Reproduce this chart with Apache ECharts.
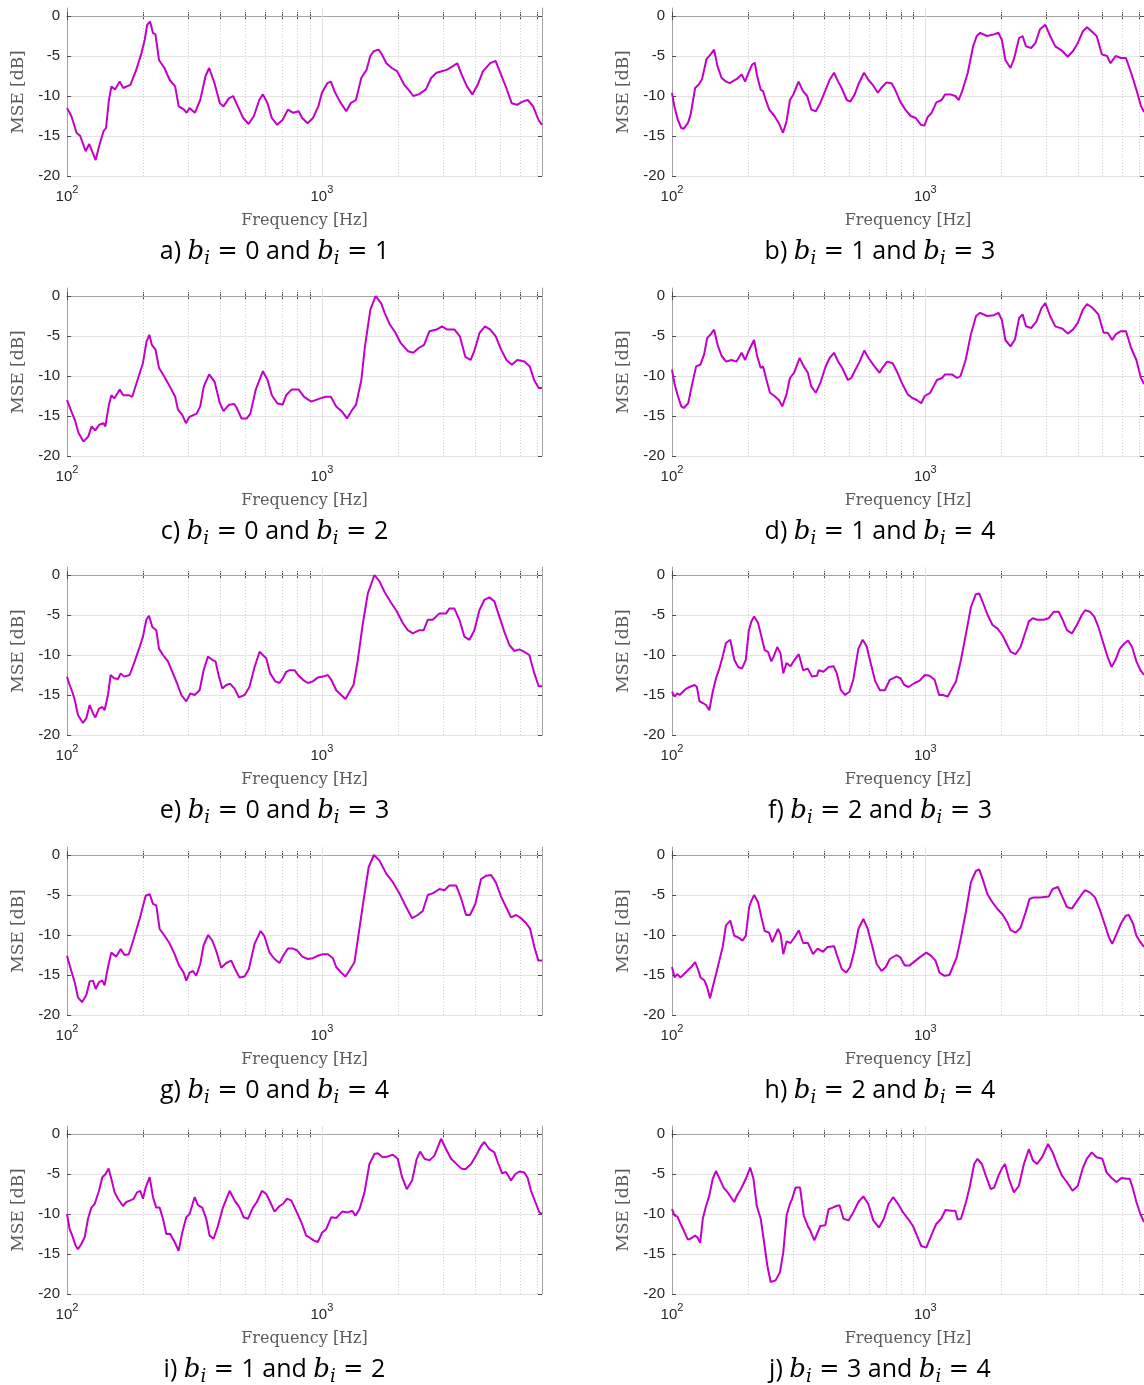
<!DOCTYPE html>
<html lang="en">

<head>
  <meta charset="UTF-8">
  <title>MSE per frequency band</title>
  <style media="screen">
    html, body { margin: 0; padding: 0; background: #fff; }
  </style>
</head>

<body>
  <div id="main" style="width:1144px;height:1385px;"></div>
</body>
<script src="https://cdn.jsdelivr.net/npm/echarts@6/dist/echarts.min.js"></script>

<script>
  // [frequency Hz, MSE dB]
  var curveA = [[100,-11.5],[104,-12.5],[109,-14.6],[112.7,-15],[118.3,-16.9],[122.2,-16],[125.4,-16.9],[129.5,-18],[134.6,-15.9],[139.1,-14.4],[142.3,-14],[146,-10.5],[149.4,-8.8],[154.3,-9.2],[160.9,-8.2],[166.2,-9],[177.3,-8.6],[186.1,-6.9],[195.3,-4.8],[201.7,-3],[206.3,-1.1],[211.7,-0.7],[217.3,-2.1],[222.3,-2.3],[229.6,-5.5],[241,-6.5],[253,-8],[265.6,-8.8],[274.3,-11.3],[288,-11.7],[294.5,-12.1],[302.2,-11.5],[317.2,-12.1],[333.1,-10.5],[349.6,-7.5],[361.1,-6.5],[379,-8.4],[397.8,-10.9],[411,-11.3],[431.3,-10.3],[448.4,-10],[467.7,-11.3],[490.9,-12.75],[515.4,-13.5],[541,-12.5],[567.9,-10.5],[586.6,-9.8],[611.7,-10.9],[635.9,-12.75],[667.5,-13.6],[700.7,-13],[735.6,-11.7],[772,-12.1],[810.4,-11.9],[837,-12.75],[878.6,-13.4],[922.3,-12.75],[968.2,-11.3],[1000,-9.6],[1050,-8.4],[1084,-8.2],[1120,-9.4],[1176,-10.7],[1246,-11.9],[1296,-10.9],[1360,-10.5],[1427,-7.75],[1498,-6.7],[1548,-5],[1598,-4.4],[1667,-4.2],[1705,-4.6],[1790,-5.9],[1879,-6.5],[1972,-6.9],[2104,-8.6],[2209,-9.4],[2281,-10],[2394,-9.8],[2555,-9.2],[2682,-7.75],[2815,-7.1],[2954,-6.9],[3101,-6.7],[3255,-6.3],[3395,-5.9],[3530,-7.3],[3706,-8.8],[3890,-9.8],[4083,-8.6],[4285,-6.9],[4573,-5.9],[4800,-5.6],[5038,-7.3],[5288,-9],[5552,-10.9],[5827,-11.1],[6117,-10.7],[6421,-10.5],[6741,-11.3],[7074,-13],[7300,-13.6]];
  var curveB = [[100,-9.6],[102.2,-11.3],[105.5,-13],[108.8,-14],[111.2,-14.1],[115.9,-13.3],[118.5,-12.3],[123.4,-9],[127.3,-8.6],[131.4,-7.9],[136.8,-5.4],[142.1,-4.8],[146.6,-4.2],[151.3,-6.3],[157,-7.75],[163.6,-8.2],[168.8,-8.4],[179.7,-7.9],[188.4,-7.3],[194.4,-8.2],[199.3,-7.3],[206.9,-6.1],[212.2,-5.85],[216.9,-7.5],[223.8,-9.2],[228.8,-9.4],[234.6,-10.5],[242,-11.7],[253.7,-12.5],[264.2,-13.4],[274.3,-14.6],[283.1,-13.2],[292.1,-10.5],[301.4,-9.8],[315.9,-8.2],[329,-9.4],[341.6,-10],[354.7,-11.7],[369.4,-11.9],[384.8,-10.9],[399.6,-9.6],[418.8,-8],[436.2,-7.1],[452.9,-8.2],[467.3,-9],[489.8,-10.5],[505.4,-10.7],[526.4,-9.8],[546.6,-8.4],[573,-7.1],[596.7,-8],[619.6,-8.6],[649.4,-9.6],[670,-9],[702.4,-8.3],[735.9,-8.4],[759.7,-9.2],[796.3,-10.7],[834.2,-11.7],[874.7,-12.5],[917,-12.75],[961,-13.6],[991,-13.7],[1023,-12.6],[1055,-12.2],[1106,-10.8],[1160,-10.5],[1196,-9.8],[1254,-9.8],[1313,-10],[1355,-10.5],[1398,-9.4],[1471,-7.1],[1544,-3.8],[1596,-2.5],[1646,-2.1],[1753,-2.5],[1866,-2.3],[1944,-2.1],[2006,-3],[2070,-5.5],[2169,-6.5],[2238,-5.4],[2346,-2.75],[2421,-2.5],[2498,-3.8],[2618,-4],[2719,-3.4],[2832,-1.7],[2977,-1.1],[3110,-2.5],[3261,-3.8],[3481,-4.4],[3650,-5.1],[3825,-4.4],[3996,-3.4],[4189,-1.9],[4350,-1.4],[4530,-1.9],[4748,-2.5],[4980,-4.8],[5216,-5],[5384,-5.9],[5642,-5],[5914,-5.25],[6197,-5.25],[6494,-7.1],[6810,-9.2],[7091,-11.2],[7300,-12]];
  var curveC = [[100,-13],[103.9,-14.4],[107.4,-15.5],[110.9,-17.1],[116,-18.2],[121,-17.6],[125,-16.3],[129,-16.8],[133.8,-16.1],[139.1,-15.9],[141.4,-16.3],[146,-13.6],[149.4,-12.4],[153.3,-12.8],[161,-11.7],[166.2,-12.4],[174.5,-12.4],[180.2,-12.6],[189.1,-10.5],[198.5,-8.4],[205.1,-5.7],[210.4,-4.85],[215.2,-6.1],[222.4,-6.7],[229.6,-9],[241,-10.1],[253,-11.3],[265.6,-12.6],[272.5,-14.2],[283.4,-14.9],[292.7,-15.9],[302.3,-15.1],[322.5,-14.7],[333.1,-13.8],[344.1,-11.3],[361.1,-9.8],[379.1,-10.7],[397.8,-13.4],[411,-14.4],[431.5,-13.6],[453,-13.5],[463.5,-14],[483.3,-15.3],[507.3,-15.3],[524,-14.7],[550,-11.7],[586.8,-9.4],[612,-10.5],[636.2,-12.4],[667.9,-13.4],[701.1,-13.6],[724.2,-12.4],[760.2,-11.7],[811,-11.7],[851.4,-12.6],[908.3,-13.2],[984.5,-12.8],[1033,-12.6],[1084,-12.6],[1138,-13.8],[1195,-14.4],[1254,-15.3],[1317,-14.2],[1360,-13.6],[1428,-10.5],[1475,-6.3],[1549,-1.7],[1625,0],[1706,-0.9],[1762,-2.1],[1850,-3.6],[1942,-4.6],[2039,-5.9],[2175,-6.9],[2283,-7.1],[2397,-6.5],[2516,-6.1],[2641,-4.4],[2818,-4.2],[2958,-3.8],[3105,-4.2],[3313,-4.2],[3478,-5.05],[3651,-7.6],[3832,-8],[3959,-6.9],[4155,-4.6],[4362,-3.8],[4579,-4.2],[4807,-5.05],[5046,-6.7],[5297,-8],[5560,-8.6],[5836,-8],[6227,-8.2],[6537,-8.8],[6796,-10.5],[7087,-11.5],[7300,-11.5]];
  var curveD = [[100,-9.2],[102.2,-10.9],[105.5,-12.5],[108.8,-13.8],[111.2,-14],[115.9,-13.4],[119.6,-11.3],[124.5,-8.8],[129.3,-8.6],[133.9,-7.3],[137.7,-5.25],[142.1,-4.8],[146.6,-4.2],[151.3,-6.1],[157,-7.5],[163.6,-8.2],[171.5,-8],[179.7,-8.2],[188.4,-7.1],[194.4,-8],[200.5,-6.9],[210.8,-5.5],[216.9,-7.5],[223.8,-9],[228.8,-8.8],[236.1,-10.5],[243.6,-12.1],[253.7,-12.5],[264.2,-13],[272.6,-13.8],[283.1,-12.3],[292.1,-10.25],[303.3,-9.6],[318.9,-7.75],[331.1,-8.8],[343.8,-9.6],[354.7,-11.3],[369.4,-12.1],[384.8,-10.9],[402.2,-9],[418.8,-7.75],[436.2,-7.1],[452.9,-8.2],[470.2,-9],[494.5,-10.5],[510.2,-10.25],[529.8,-9.2],[550.1,-8.2],[574.7,-6.8],[596.7,-7.75],[623.5,-8.6],[659.7,-9.6],[676.4,-9],[706.9,-8.2],[743.1,-8.4],[771.6,-9.4],[808.7,-10.9],[852.4,-12.3],[888.6,-12.75],[925.5,-13],[964,-13.4],[995,-12.5],[1045,-12.1],[1078,-11.3],[1112,-10.5],[1164,-10.25],[1196,-9.8],[1274,-9.8],[1334,-10.25],[1377,-10],[1443,-8],[1513,-4.8],[1586,-2.5],[1646,-2.1],[1753,-2.5],[1866,-2.4],[1944,-2.1],[2006,-3],[2070,-5.5],[2169,-6.3],[2260,-5.4],[2346,-2.75],[2421,-2.3],[2498,-3.8],[2618,-4],[2744,-3.2],[2876,-1.5],[2977,-0.9],[3110,-2.5],[3261,-3.8],[3481,-4.1],[3650,-4.7],[3825,-4.2],[3996,-3.4],[4189,-1.7],[4350,-1],[4574,-1.5],[4823,-2.3],[5056,-4.6],[5250,-4.6],[5468,-5.5],[5642,-4.8],[5914,-4.4],[6197,-4.4],[6494,-6.5],[6810,-8],[7091,-10.2],[7300,-11]];
  var curveE = [[100,-12.7],[102.4,-13.75],[104.9,-14.6],[107.2,-15.6],[110.4,-17.5],[115.5,-18.5],[119.1,-17.9],[122.7,-16.25],[126.5,-17.3],[129.2,-17.8],[133.5,-16.7],[137.6,-16.5],[140.4,-16.9],[144.8,-15],[148.3,-12.5],[152.9,-12.9],[158.5,-13],[162.4,-12.3],[167.4,-12.7],[176.1,-12.5],[184.3,-10.8],[192.7,-9],[198.6,-7.7],[204.7,-5.6],[209.7,-5.1],[216.1,-6.5],[224,-6.9],[229.5,-9.2],[238,-10],[248.9,-10.8],[260.4,-12.3],[270,-13.5],[280.9,-15],[293.7,-15.8],[304.5,-14.8],[316.6,-15],[331.3,-14.4],[343.6,-11.9],[357.2,-10.2],[371.4,-10.6],[382.6,-10.8],[394.4,-12.7],[406.7,-14.2],[421.4,-13.75],[436.9,-13.6],[454.4,-14.2],[472.4,-15.3],[497.3,-15],[519.5,-14],[544.3,-11.5],[569.4,-9.6],[586.6,-10],[604.7,-10.4],[626.6,-12.3],[656.6,-13.3],[682,-13.5],[702.9,-12.9],[724.3,-12.1],[746.4,-11.9],[780.8,-11.9],[805.9,-12.5],[842.8,-13.1],[880.8,-13.5],[921.5,-13.3],[963.9,-12.8],[1009,-12.7],[1055,-12.5],[1088,-13.1],[1138,-14.4],[1190,-15],[1237,-15.5],[1283,-14.6],[1330,-13.75],[1383,-10.6],[1448,-6],[1514,-2.3],[1607,0],[1682,-0.8],[1759,-2.1],[1870,-3.5],[1955,-4.4],[2076,-6],[2172,-6.9],[2272,-7.3],[2413,-6.9],[2508,-6.9],[2602,-5.6],[2722,-5.6],[2890,-4.8],[3070,-4.8],[3163,-4.2],[3309,-4.2],[3462,-5.6],[3622,-7.7],[3789,-8.1],[3964,-6.9],[4147,-4.4],[4339,-3.1],[4539,-2.8],[4748,-3.3],[4967,-5.2],[5195,-7.1],[5436,-8.75],[5688,-9.5],[5950,-9.3],[6224,-9.6],[6510,-10],[6813,-12.3],[7085,-13.9],[7300,-13.9]];
  var curveF = [[100,-14.6],[102.4,-15.2],[104.9,-14.8],[107.2,-15],[110.4,-14.6],[113.9,-14.2],[117.3,-14],[122.7,-13.75],[125.4,-14],[128.4,-15.8],[132.3,-16],[136.3,-16.25],[140.4,-16.9],[144.8,-14.6],[149.2,-12.9],[153.8,-11.7],[158.5,-10.2],[163.3,-8.5],[169.9,-8.1],[176.2,-10.6],[182.6,-11.5],[188.8,-11.7],[195.6,-10.6],[201.1,-6.9],[205.8,-5.8],[211,-5.2],[218.7,-6],[225.4,-7.7],[232.3,-9.4],[239.3,-9.6],[246.7,-10.8],[251.9,-10.2],[260.4,-9],[268.3,-9.8],[274.9,-12.3],[283.1,-11],[293.7,-11.4],[304.5,-10.6],[316.6,-9.9],[329.3,-11.9],[343.6,-11.7],[357.2,-12.7],[373.6,-12.6],[379.3,-11.9],[396.8,-12.1],[415.1,-11.5],[434.3,-11.4],[447.6,-12.3],[464.1,-14.4],[482.5,-15],[501.8,-14.6],[519.5,-13.1],[544.3,-9.2],[565.9,-8.1],[586.8,-8.9],[608.4,-11],[634.5,-13.3],[662,-14.4],[692.3,-14.4],[724.3,-13.1],[769.3,-12.7],[797.4,-12.9],[826.2,-13.75],[858.7,-14],[907.5,-13.5],[950.2,-13.2],[995.1,-12.5],[1039,-12.6],[1088,-13.1],[1134,-15],[1172,-15],[1226,-15.2],[1274,-14.2],[1322,-13.3],[1383,-10.6],[1448,-7.3],[1514,-4],[1583,-2.4],[1632,-2.3],[1690,-3.5],[1762,-5],[1842,-6.25],[1929,-6.7],[2014,-7.5],[2106,-8.75],[2172,-9.6],[2272,-9.9],[2377,-9],[2487,-7.1],[2563,-5.8],[2657,-5.4],[2763,-5.6],[2934,-5.6],[3070,-5.4],[3212,-4.6],[3361,-4.6],[3462,-5.4],[3622,-6.9],[3790,-7.3],[3965,-6.25],[4147,-5],[4273,-4.4],[4471,-4.6],[4647,-5.2],[4823,-6.5],[5042,-8.5],[5240,-10.2],[5436,-11.5],[5637,-10.6],[5861,-9.2],[6133,-8.5],[6319,-8.2],[6550,-9],[6813,-10.8],[7064,-11.9],[7300,-12.5]];
  var curveG = [[100,-12.6],[104,-14.5],[107.2,-15.9],[110.4,-17.8],[114.5,-18.4],[119.1,-17.5],[122.7,-15.8],[126.5,-15.7],[129.6,-16.75],[133.5,-15.9],[137.6,-15.7],[140.4,-16.3],[144.8,-14],[149.2,-12.2],[156.1,-12.7],[162.4,-11.75],[168,-12.5],[174.8,-12.4],[182.6,-10.5],[192.7,-8],[203.5,-5.1],[211,-4.9],[217.4,-6.1],[224,-6.3],[230.9,-9.25],[241.6,-10.1],[253.1,-11.1],[264.3,-12.4],[274.9,-13.8],[286.8,-14.7],[293.7,-15.7],[302.7,-14.7],[311.9,-14.5],[321.4,-15.1],[333.3,-13.6],[343.6,-11.25],[358.1,-10],[371.4,-10.7],[385,-12],[402.8,-14.1],[421.4,-13.5],[441,-13.2],[456,-14.25],[475.3,-15.3],[497.3,-15.2],[517,-14.25],[544.3,-11.1],[574.5,-9.5],[594,-10.1],[623.1,-12.2],[652,-13],[682,-13.5],[707.2,-12.5],[735.3,-11.7],[769.3,-11.7],[797.4,-11.9],[837.2,-12.7],[880.3,-13],[921.5,-12.9],[963,-12.6],[1009,-12.4],[1056,-12.4],[1104,-12.9],[1138,-14],[1189,-14.7],[1236,-15.2],[1283,-14.4],[1342,-13.4],[1387,-10.3],[1453,-5.9],[1526,-1.5],[1599,0],[1682,-0.7],[1786,-2.3],[1897,-3.4],[2014,-4.8],[2139,-6.5],[2259,-7.9],[2377,-7.5],[2487,-7],[2602,-5],[2722,-4.8],[2890,-4.25],[3024,-4.4],[3163,-3.8],[3361,-3.8],[3514,-5.4],[3677,-7.5],[3811,-7.5],[3999,-6.1],[4210,-3],[4404,-2.6],[4610,-2.5],[4823,-3.5],[5042,-5.2],[5275,-6.5],[5520,-7.8],[5774,-7.5],[6040,-7.9],[6319,-8.5],[6550,-9.2],[6813,-11.5],[7064,-13.2],[7300,-13.2]];
  var curveH = [[100,-14],[102.4,-15.3],[104.9,-14.9],[108.2,-15.3],[111.4,-14.9],[114.8,-14.5],[119.1,-14],[123.4,-13.4],[126.5,-14.25],[129.6,-15.3],[134.3,-15.7],[137.6,-16.5],[141.3,-17.9],[144.8,-16.5],[149.2,-14.9],[153.8,-13.2],[158.5,-11.5],[163.3,-8.8],[169.9,-8.2],[176.1,-10.1],[182.6,-10.3],[189.9,-10.7],[195.6,-10.1],[201.6,-6.5],[205.9,-5.7],[211,-5],[218.7,-5.9],[225.4,-7.8],[232.3,-9.5],[241.6,-9.7],[248.9,-10.9],[254.2,-10.2],[262,-9.25],[268.3,-9.9],[275,-12.4],[283.3,-10.8],[293.7,-11],[304.5,-10.3],[316.6,-9.4],[329.3,-11],[344,-11],[360.3,-12.4],[375.9,-11.7],[394.4,-12.1],[411.4,-11.5],[436.9,-11.4],[447.6,-12.5],[468.2,-14.25],[486.9,-14.7],[504.8,-14],[523.4,-12.1],[544.3,-9.25],[569.4,-8],[590.4,-9.1],[613.9,-11.1],[642.2,-13.6],[671.9,-14.5],[698.4,-14],[724.3,-13],[769.3,-12.5],[797.4,-12.8],[829.4,-13.8],[867.6,-13.8],[907.7,-13.3],[949.5,-12.8],[1009,-12.2],[1055,-12.6],[1097,-13.2],[1138,-14.7],[1190,-15.1],[1245,-15],[1283,-14],[1330,-12.8],[1383,-10.3],[1448,-7],[1514,-3.4],[1583,-2],[1632,-1.8],[1692,-3.2],[1759,-4.9],[1840,-5.9],[1926,-6.75],[2014,-7.4],[2106,-8.4],[2172,-9.4],[2272,-9.7],[2377,-9.1],[2487,-7.2],[2578,-5.5],[2681,-5.3],[2847,-5.3],[3070,-5.2],[3182,-4.25],[3339,-4],[3462,-5.1],[3622,-6.5],[3789,-6.7],[3964,-5.8],[4147,-4.9],[4273,-4.4],[4471,-4.7],[4677,-5.3],[4893,-6.9],[5119,-8.75],[5307,-10.3],[5469,-11.1],[5688,-9.9],[5915,-8.6],[6177,-7.6],[6357,-7.5],[6611,-8.6],[6813,-10.1],[7064,-10.9],[7300,-11.5]];
  var curveI = [[100,-10],[102.4,-11.9],[104.9,-12.7],[108.2,-14],[110.4,-14.4],[113.8,-13.75],[117.3,-12.9],[120.9,-10.6],[124.6,-9.2],[128.4,-8.75],[133.5,-7.1],[137.6,-5.4],[141.7,-5],[145.6,-4.3],[149.2,-5.6],[153.8,-7.3],[158.5,-8.1],[165.8,-9],[170.9,-8.5],[177.2,-8.3],[182.6,-8.1],[188.2,-7.3],[193.9,-7.1],[198.6,-8.1],[203.5,-6.7],[211,-5.4],[217.4,-7.9],[224,-9.2],[230.9,-9.2],[238,-10.6],[245.2,-12.5],[254.2,-12.5],[264.3,-13.5],[274.1,-14.6],[283.3,-12.3],[293.7,-10.4],[302.7,-10],[316.6,-7.9],[326.3,-8.9],[339.3,-9.2],[351.8,-10.6],[362.5,-12.7],[375.9,-13.1],[390.9,-11.5],[408.9,-9.2],[434.3,-7.1],[454.4,-8.3],[475.3,-9.2],[492.7,-10.4],[512.5,-10.6],[536.1,-9.2],[555.6,-8.5],[581.6,-7.1],[604.7,-7.5],[626.6,-8.5],[651.9,-9.7],[682,-9],[702.9,-8.75],[728.7,-8.1],[757.9,-8.3],[797.4,-9.8],[829.4,-11],[867.6,-12.7],[900,-13],[927.1,-13.3],[963.9,-13.5],[1003,-12.3],[1039,-11.9],[1088,-10.4],[1138,-10.5],[1201,-9.7],[1264,-9.8],[1314,-9.6],[1354,-10.2],[1404,-9.4],[1469,-7.3],[1536,-3.75],[1607,-2.5],[1657,-2.4],[1733,-2.9],[1813,-2.8],[1897,-2.6],[1984,-3.1],[2063,-5.4],[2152,-6.9],[2258,-5.8],[2355,-3.1],[2427,-2.2],[2525,-3.1],[2641,-3.3],[2763,-2.7],[2934,-0.6],[3070,-1.9],[3212,-3.1],[3361,-3.7],[3514,-4.3],[3655,-4.4],[3846,-3.75],[4024,-2.7],[4210,-1.5],[4339,-1],[4539,-1.9],[4748,-2.3],[4893,-3.5],[5087,-4.9],[5275,-4.75],[5520,-5.8],[5740,-5],[5950,-4.7],[6224,-4.8],[6414,-5.5],[6611,-7.1],[6874,-8.5],[7128,-9.8],[7300,-10]];
  var curveJ = [[100,-9.4],[102.4,-10.2],[104.9,-10.3],[108.2,-11.25],[111.4,-12.1],[115.5,-13.2],[119.8,-13],[123.4,-12.7],[126.5,-13],[129.2,-13.6],[132.3,-10.6],[136.3,-9],[140.4,-7.7],[144.8,-5.6],[149.2,-4.6],[155.1,-5.8],[159.9,-6.7],[165.8,-7.3],[170.9,-7.9],[176.1,-8.5],[180.4,-7.7],[187,-6.9],[195.6,-5.6],[203.5,-4.2],[209.7,-5.6],[216.1,-9],[224,-10.6],[230.9,-13.5],[238,-16.5],[245.2,-18.5],[256.5,-18.3],[266.7,-17.3],[275,-14.8],[283.3,-10.2],[291.9,-8.75],[298.1,-8.1],[307.3,-6.7],[320.3,-6.7],[331.3,-10.2],[343.6,-11.5],[351.8,-12.1],[364.7,-13.3],[373.6,-12.5],[385,-11.5],[402.8,-11.4],[415.1,-9.4],[431.3,-9.2],[444.9,-9],[458.5,-8.9],[475.3,-10.6],[497.3,-10.8],[519.5,-9.8],[544.3,-8.5],[569.4,-7.8],[595.8,-8.75],[623.1,-10.8],[656.6,-11.7],[686.1,-10.6],[715.7,-8.75],[746.4,-7.9],[780.8,-8.75],[817,-9.8],[854.7,-10.6],[894,-11.5],[927.1,-12.7],[963.9,-14],[1009,-14.2],[1055,-12.7],[1104,-11.25],[1155,-10.6],[1201,-9.5],[1264,-9.6],[1314,-9.6],[1342,-10.7],[1383,-10.6],[1448,-8.5],[1500,-6.5],[1559,-3.75],[1607,-3.1],[1672,-3.75],[1733,-5.2],[1813,-6.9],[1870,-6.7],[1944,-5.2],[2014,-4.2],[2063,-3.75],[2139,-5.6],[2237,-7.3],[2340,-6.5],[2450,-3.75],[2563,-1.9],[2659,-3.3],[2763,-3.75],[2890,-2.9],[3052,-1.25],[3182,-2.3],[3309,-3.75],[3462,-5.2],[3622,-6],[3812,-7.1],[3999,-6.5],[4172,-4.4],[4339,-3.1],[4539,-2.3],[4748,-2.9],[4997,-3.1],[5195,-4.8],[5436,-5.5],[5688,-6],[5950,-5.5],[6224,-5.6],[6414,-5.6],[6611,-6.9],[6813,-8.5],[7064,-10],[7300,-11]];

  var panelTags = ['a)', 'b)', 'c)', 'd)', 'e)', 'f)', 'g)', 'h)', 'i)', 'j)'];
  var panelPairs = [[0, 1], [1, 3], [0, 2], [1, 4], [0, 3], [2, 3], [0, 4], [2, 4], [1, 2], [3, 4]];
  var yTicks = [-20, -15, -10, -5, 0];
  var xMajor = [100, 1000];
  var xMinor = [200, 300, 400, 500, 600, 700, 800, 900, 2000, 3000, 4000, 5000, 6000, 7000];

  var curves = [curveA, curveB, curveC, curveD, curveE, curveF, curveG, curveH, curveI, curveJ];
  var rowTops = [8, 288, 567, 847, 1126];
  var xTicks = xMajor.concat(xMinor).sort(function (a, b) { return a - b; });

  var myChart = echarts.init(document.getElementById('main'));

  var grids = [], xAxes = [], yAxes = [], series = [], texts = [];
  var boxColor = '#a3a3a3', tickColor = '#4d4d4d';

  curves.forEach(function (data, k) {
    var col = k % 2, row = Math.floor(k / 2);
    var top = rowTops[row];
    grids.push({ left: col ? 672 : 67, top: top, width: 475, height: 168 });

    var xBase = {
      type: 'log', logBase: 10, gridIndex: k, min: 100, max: 7300,
      axisLine: { lineStyle: { color: boxColor, width: 1 } },
      axisTick: { inside: true, length: 4, customValues: xTicks, lineStyle: { color: tickColor } },
      splitLine: { show: false }
    };
    xAxes.push(Object.assign({}, xBase, {
      position: 'bottom',
      name: 'Frequency [Hz]', nameLocation: 'middle', nameGap: 37,
      nameTextStyle: { fontFamily: 'DejaVu Serif', fontSize: 16, color: '#5a5a5a' },
      axisLabel: {
        customValues: xMajor, margin: 8,
        formatter: function (v) { return '{b|10}{s|' + Math.round(Math.log10(v)) + '}'; },
        rich: {
          b: { fontFamily: 'Liberation Sans', fontSize: 15, color: '#262626', lineHeight: 20, verticalAlign: 'bottom' },
          s: { fontFamily: 'Liberation Sans', fontSize: 11, color: '#262626', lineHeight: 20, verticalAlign: 'top' }
        }
      }
    }));
    xAxes.push(Object.assign({}, xBase, { position: 'top', axisLabel: { show: false } }));

    var yBase = {
      type: 'value', gridIndex: k, min: -20, max: 1, interval: 5,
      axisLine: { show: true, lineStyle: { color: boxColor, width: 1 } },
      axisTick: { show: true, inside: true, length: 4, customValues: yTicks, lineStyle: { color: tickColor } }
    };
    yAxes.push(Object.assign({}, yBase, {
      position: 'left',
      name: 'MSE [dB]', nameLocation: 'middle', nameGap: 40,
      nameTextStyle: { fontFamily: 'DejaVu Serif', fontSize: 17, color: '#5a5a5a' },
      axisLabel: { customValues: yTicks, margin: 7, fontFamily: 'Liberation Sans', fontSize: 15, color: '#262626' },
      splitLine: { show: true, lineStyle: { color: '#e3e3e3', width: 1 } }
    }));
    yAxes.push(Object.assign({}, yBase, { position: 'right', axisLabel: { show: false }, splitLine: { show: false } }));

    var gridLines = xMinor.map(function (f) {
      return { xAxis: f, lineStyle: { type: [1, 2], color: '#cfcfcf', width: 1 } };
    }).concat([{ xAxis: 1000, lineStyle: { type: 'solid', color: '#e3e3e3', width: 1 } }]);

    series.push({
      type: 'line', xAxisIndex: 2 * k, yAxisIndex: 2 * k, z: 3,
      data: data, showSymbol: false, silent: true,
      lineStyle: { color: '#c400c8', width: 2 },
      markLine: {
        z: 1, silent: true, symbol: 'none', label: { show: false }, animation: false,
        emphasis: { disabled: true }, data: gridLines
      }
    });

    var p = panelPairs[k];
    texts.push({
      type: 'text', x: col ? 880 : 274.5, y: top + 244,
      style: {
        text: '{t|' + panelTags[k] + ' }{m|b}{i|i}{e| = }{t|' + p[0] + ' and }{m|b}{i|i}{e| = }{t|' + p[1] + '}',
        textAlign: 'center', textVerticalAlign: 'middle',
        rich: {
          t: { fontFamily: 'Open Sans', fontSize: 25, fill: '#000', lineHeight: 32, verticalAlign: 'middle' },
          e: { fontFamily: 'DejaVu Sans', fontSize: 24, fill: '#000', lineHeight: 32, verticalAlign: 'middle' },
          m: { fontFamily: 'DejaVu Serif', fontStyle: 'italic', fontSize: 26, fill: '#000', lineHeight: 32, verticalAlign: 'middle' },
          i: { fontFamily: 'DejaVu Serif', fontStyle: 'italic', fontSize: 18, fill: '#000', lineHeight: 32, verticalAlign: 'bottom' }
        }
      }
    });
  });

  myChart.setOption({
    backgroundColor: '#ffffff',
    animation: false,
    grid: grids,
    xAxis: xAxes,
    yAxis: yAxes,
    series: series,
    graphic: texts
  });
</script>

</html>
